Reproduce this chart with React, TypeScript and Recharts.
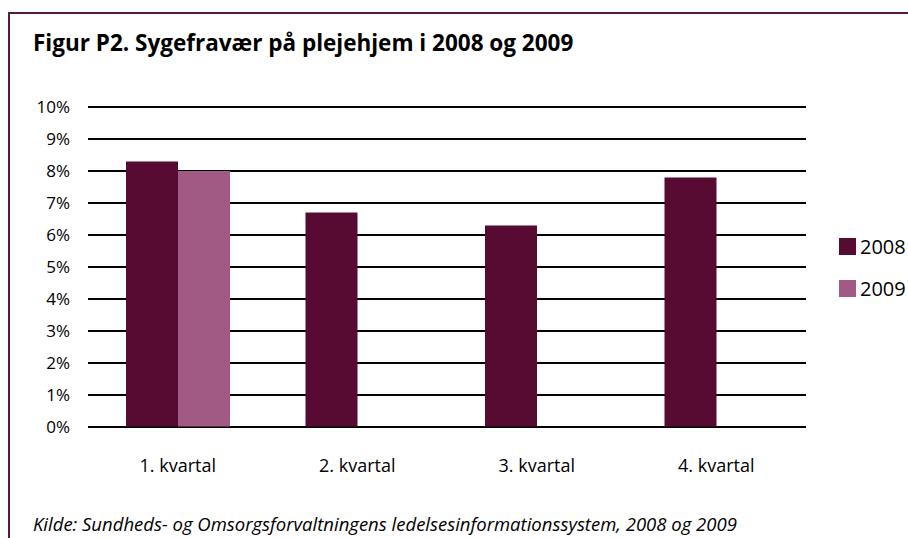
import { Bar, BarChart, CartesianGrid, XAxis, YAxis } from "recharts";

const quarters = ["1. kvartal", "2. kvartal", "3. kvartal", "4. kvartal"];
const values2008 = [8.3, 6.7, 6.3, 7.8];
const values2009: (number | null)[] = [8.0, null, null, null];
const yTicks = [0, 1, 2, 3, 4, 5, 6, 7, 8, 9, 10];

const C2008 = "#570b33";
const C2009 = "#a15a84";
const FONT = "'Open Sans', Lato, sans-serif";

const data = quarters.map((q, i) => ({ name: q, y2008: values2008[i], y2009: values2009[i] }));

const legendItems = [
  { label: "2008", color: C2008 },
  { label: "2009", color: C2009 },
];

export default function App() {
  return (
    <div style={{ position: "fixed", left: 0, top: 0, width: 908, height: 538, background: "#fff", overflow: "hidden", fontFamily: FONT }}>
      {/* frame */}
      <div style={{ position: "absolute", left: 8, top: 12, width: 960, height: 600, borderLeft: "2px solid #5a1a3a", borderTop: "2px solid #5a1a3a" }} />
      <div style={{ position: "absolute", left: 33, top: 27, fontSize: 22.5, fontWeight: 700, color: "#000", whiteSpace: "nowrap" }}>
        Figur P2. Sygefravær på plejehjem i 2008 og 2009
      </div>
      <div style={{ position: "absolute", left: 0, top: 0 }}>
        <BarChart
          width={908}
          height={538}
          data={data}
          margin={{ top: 107, right: 102, bottom: 81, left: 20 }}
          barGap={0}
          barSize={52}
        >
          <CartesianGrid vertical={false} stroke="#000" strokeWidth={2} strokeOpacity={1} />
          <XAxis
            dataKey="name"
            height={30}
            axisLine={{ stroke: "#000", strokeWidth: 1 }}
            tickLine={false}
            tickSize={0}
            tickMargin={32}
            tick={{ fontSize: 18, fill: "#000", fontFamily: FONT }}
          />
          <YAxis
            width={68}
            domain={[0, 10]}
            ticks={yTicks}
            interval={0}
            axisLine={false}
            tickLine={false}
            tickSize={0}
            tickMargin={18}
            tickFormatter={(v) => `${v}%`}
            tick={{ fontSize: 17, fill: "#000", fontFamily: FONT }}
          />
          <Bar dataKey="y2008" fill={C2008} isAnimationActive={false} />
          <Bar dataKey="y2009" fill={C2009} isAnimationActive={false} />
        </BarChart>
      </div>
      {/* legend */}
      {legendItems.map((item, i) => (
        <div key={item.label} style={{ position: "absolute", left: 839, top: 233 + i * 42, display: "flex", alignItems: "center" }}>
          <div style={{ width: 17, height: 17, background: item.color, marginRight: 4 }} />
          <span style={{ fontSize: 20, color: "#000" }}>{item.label}</span>
        </div>
      ))}
      <div style={{ position: "absolute", left: 33, top: 511, fontSize: 18.5, fontStyle: "italic", color: "#000", whiteSpace: "nowrap" }}>
        Kilde: Sundheds- og Omsorgsforvaltningens ledelsesinformationssystem, 2008 og 2009
      </div>
    </div>
  );
}
